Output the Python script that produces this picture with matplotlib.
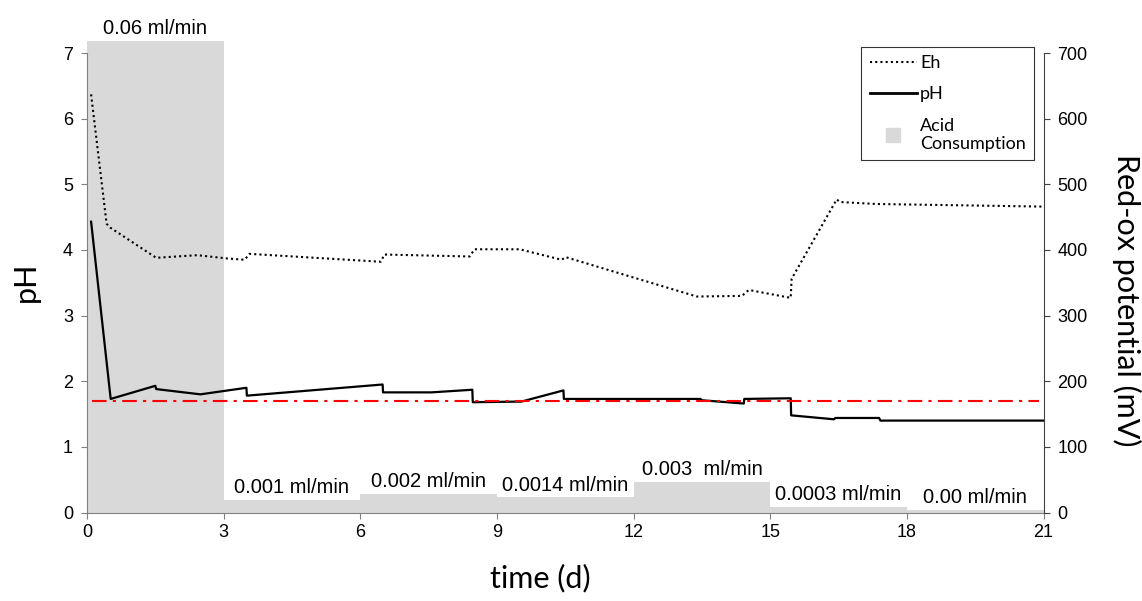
import matplotlib
matplotlib.use("Agg")
import matplotlib.pyplot as plt
from matplotlib.lines import Line2D

# pH readings (time in days)
ph_time = [0.09, 0.52, 1.50, 1.52, 2.49, 3.50, 3.51, 6.49, 6.50, 7.56, 8.46, 8.47,
           9.54, 10.46, 10.47, 13.47, 13.50, 14.42, 14.43, 15.45, 15.46, 16.40, 16.43,
           17.39, 17.42, 21.0]
ph_values = [4.43, 1.73, 1.93, 1.88, 1.80, 1.90, 1.78, 1.95, 1.83, 1.83, 1.87, 1.68,
             1.69, 1.86, 1.73, 1.73, 1.71, 1.66, 1.73, 1.74, 1.48, 1.42, 1.44,
             1.44, 1.40, 1.40]

# red-ox potential readings (mV)
eh_time = [0.09, 0.43, 0.51, 1.52, 2.42, 3.08, 3.46, 3.57, 6.45, 6.53, 8.40, 8.51,
           9.50, 10.42, 10.51, 13.39, 14.38, 14.53, 15.45, 15.47, 16.46, 16.53, 17.32, 21.0]
eh_values = [637, 440, 434, 388, 392, 387, 385, 394, 382, 393, 390, 401,
             401, 385, 389, 329, 330, 339, 327, 356, 477, 473, 470, 466]

# reference pH level
ref_time = [0.1, 20.9]
ref_ph = [1.7, 1.7]

# acid consumption periods
acid_start = [0, 3, 6, 9, 12, 15, 18]
acid_bar = [7.18, 0.19, 0.28, 0.23, 0.47, 0.09, 0.04]
acid_labels = ["0.06 ml/min", "0.001 ml/min", "0.002 ml/min", "0.0014 ml/min",
               "0.003  ml/min", "0.0003 ml/min", "0.00 ml/min"]

tick_font = "Liberation Sans"
label_font = "Lato"
grey = "#d9d9d9"

fig = plt.figure(figsize=(11.42, 6.01), dpi=100)
ax = fig.add_axes([87 / 1142, 1 - 512.5 / 601, (1043.5 - 87) / 1142, (512.5 - 53) / 601])
ax2 = ax.twinx()

# acid consumption bars (first one reaches above the frame)
ax.bar(acid_start, acid_bar, width=3, align="edge", color=grey, zorder=1, clip_on=False)
for x0, h, lab in zip(acid_start, acid_bar, acid_labels):
    ax.annotate(lab, (x0 + 1.5, h), xytext=(0, 2), textcoords="offset points",
                ha="center", va="bottom", fontsize=14.5, family=tick_font,
                annotation_clip=False)

ax.plot(ph_time, ph_values, color="black", lw=1.6, zorder=3)
ax.plot(ref_time, ref_ph, color="red", lw=1.5, linestyle=(0, (7, 3, 1.5, 3)), zorder=4)
ax2.plot(eh_time, eh_values, color="black", lw=1.5, linestyle=(0, (1, 1.5)))

ax.set_xlim(0, 21)
ax.set_ylim(0, 7)
ax2.set_ylim(0, 700)
ax.set_xticks(range(0, 22, 3))
ax.set_yticks(range(0, 8))
ax2.set_yticks(range(0, 701, 100))

for a in (ax, ax2):
    a.spines["top"].set_visible(False)
ax.spines["left"].set_color("#808080")
ax.spines["bottom"].set_color("#808080")
ax.spines["right"].set_visible(False)
ax2.spines["left"].set_visible(False)
ax2.spines["bottom"].set_visible(False)
ax2.spines["right"].set_color("#404040")

ax.tick_params(axis="y", direction="out", length=4, color="#808080", pad=6)
ax.tick_params(axis="x", direction="out", length=4, color="#808080", pad=4)
ax2.tick_params(axis="y", direction="out", length=4, color="#404040", pad=6)
for lab in ax.get_xticklabels() + ax.get_yticklabels() + ax2.get_yticklabels():
    lab.set_fontfamily(tick_font)
    lab.set_fontsize(13)

fig.text(26 / 1142, 1 - 282 / 601, "pH", rotation=90, ha="center", va="center",
         fontsize=22, family=label_font)
fig.text(540 / 1142, 1 - 578 / 601, "time (d)", ha="center", va="center",
         fontsize=22, family=label_font)
fig.text(1127 / 1142, 1 - 300 / 601, "Red-ox potential (mV)", rotation=-90,
         ha="center", va="center", fontsize=22, family=label_font)

handles = [
    Line2D([], [], color="black", lw=1.5, linestyle=(0, (1, 1.5))),
    Line2D([], [], color="black", lw=2),
    Line2D([], [], color=grey, marker="s", markersize=10, linestyle="none"),
]
leg = ax2.legend(handles, ["Eh", "pH", "Acid\nConsumption"], loc="upper right",
                 bbox_to_anchor=(1034 / 1142, 1 - 46.7 / 601),
                 bbox_transform=fig.transFigure, borderaxespad=0,
                 frameon=True, fancybox=False, edgecolor="black",
                 prop={"family": label_font, "size": 13},
                 handlelength=2.6, handletextpad=0.2, labelspacing=0.85,
                 borderpad=0.45)
leg.get_frame().set_linewidth(0.8)

fig.savefig("out.png", dpi=100)
